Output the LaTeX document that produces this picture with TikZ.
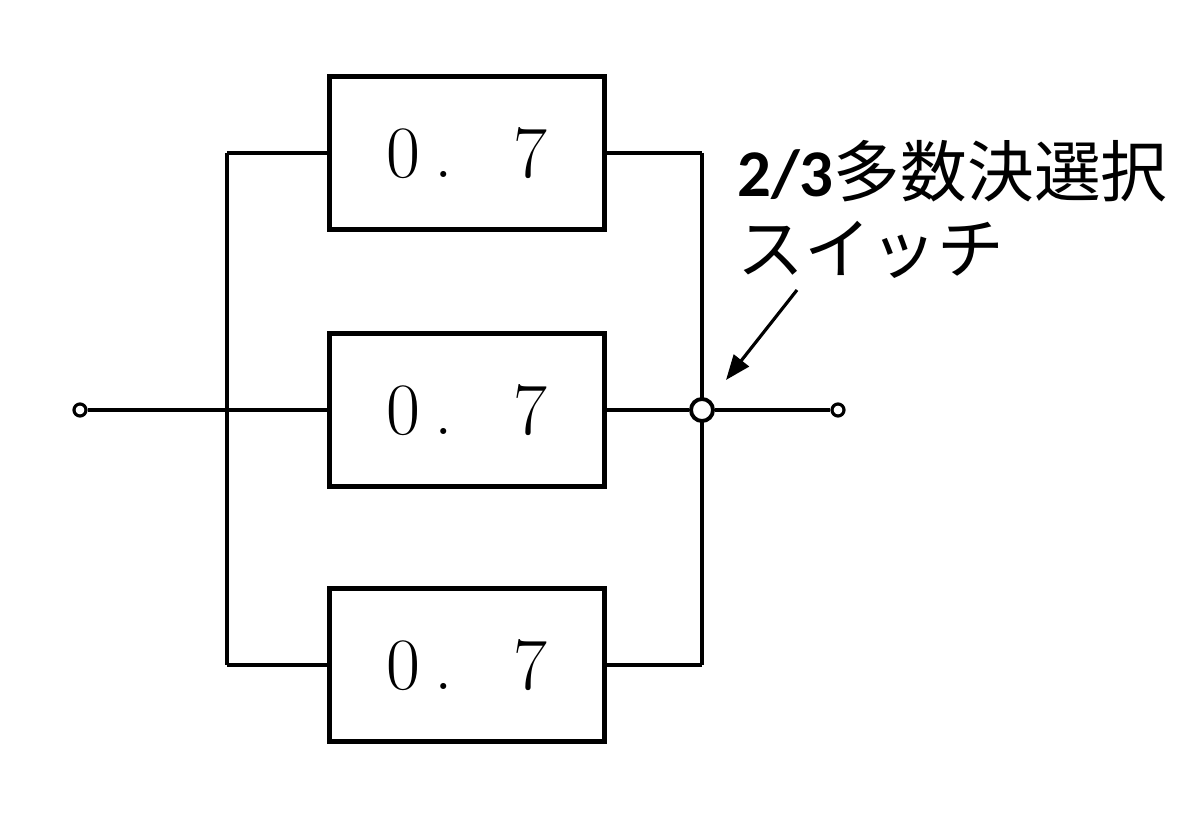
\documentclass[tikz,border=0pt]{standalone}
\usepackage{fontspec}
\newfontfamily\cjk{Noto Sans CJK JP}
\newfontfamily\lat{Carlito}
\usepackage{tikz}
\usetikzlibrary{arrows.meta}

\begin{document}
\begin{tikzpicture}[x=0.02cm, y=-0.02cm,
	unit/.style={rectangle, draw, line width=2.4pt, minimum width=5.5cm, minimum height=3.06cm, inner sep=0pt, font=\fontsize{42pt}{42pt}\selectfont},
	term/.style={circle, draw, line width=1.8pt, fill=white, minimum size=0.24cm, inner sep=0pt},
	wire/.style={line width=1.8pt}]
				\useasboundingbox (0,0) rectangle (1200,831);

				\node[unit] (U1) at (467,153) {0\hspace{8pt}.\hspace{35pt}7};
				\node[unit] (U2) at (467,410) {0\hspace{8pt}.\hspace{35pt}7};
				\node[unit] (U3) at (467,665) {0\hspace{8pt}.\hspace{35pt}7};

				\coordinate (LT) at (227,153);
				\coordinate (LB) at (227,665);
				\coordinate (RT) at (702,153);
				\coordinate (RB) at (702,665);

				\draw[wire] (LT) -- (LB);
				\draw[wire] (RT) -- (RB);
				\draw[wire] (LT) -- (U1);
				\draw[wire] (LB) -- (U3);
				\draw[wire] (U1) -- (RT);
				\draw[wire] (U3) -- (RB);

				\node[term] (IN) at (80,410) {};
				\node[term, minimum size=0.44cm, line width=2.2pt] (SW) at (702,410) {};
				\node[term] (OUT) at (838,410) {};

				\draw[wire] (IN) -- (U2);
				\draw[wire] (U2) -- (SW);
				\draw[wire] (SW) -- (OUT);

				\node[anchor=north west, align=left, inner sep=0pt, font=\cjk\fontsize{38pt}{44pt}\selectfont] (LBL) at (737,140) {{\lat\bfseries 2/3}多数決選択\\スイッチ};

				\coordinate (ATAIL) at (797,290);
				\coordinate (AHEAD) at (726,380);
				\draw[wire, -{Triangle[length=0.5cm, width=0.38cm]}] (ATAIL) -- (AHEAD);
			\end{tikzpicture}
\end{document}
